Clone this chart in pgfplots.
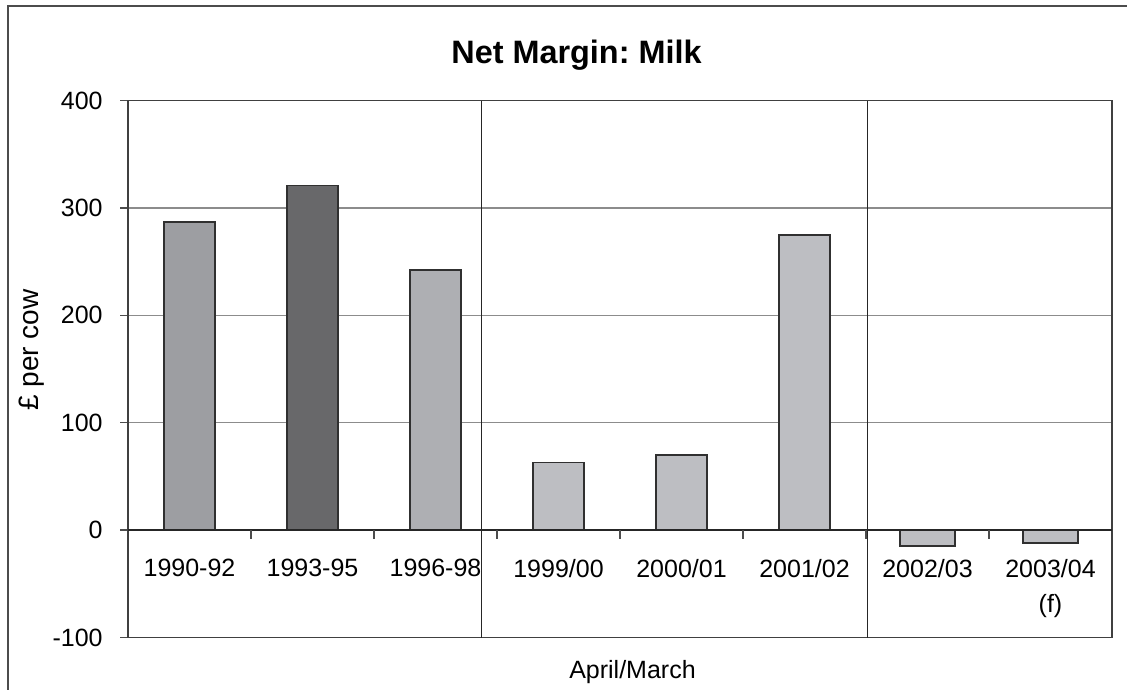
\documentclass[border=0pt]{standalone}
\usepackage{pgfplots}
\pgfplotsset{compat=1.18}
\usepackage{fontspec}
\setmainfont{Liberation Sans}
\frenchspacing
\definecolor{barA}{HTML}{9D9EA2}
\definecolor{barB}{HTML}{68686A}
\definecolor{barC}{HTML}{AEAFB3}
\definecolor{barD}{HTML}{BDBEC2}
\definecolor{edge}{HTML}{303030}
\begin{document}
\begin{tikzpicture}
\path[use as bounding box] (0,0) rectangle (565pt,-345pt);
\draw[line width=1pt, black!70] (4pt,-346pt) -- (4pt,-3pt) -- (563.5pt,-3pt);
\begin{axis}[
  at={(64pt,-318.75pt)}, anchor=south west,
  scale only axis, width=492pt, height=268.5pt,
  xmin=0, xmax=8, ymin=-100, ymax=400,
  ytick={-100,0,100,200,300,400},
  xtick={0.5,1.5,2.5,3.5,4.5,5.5,6.5,7.5},
  xticklabels={1990-92,1993-95,1996-98,1999/00,2000/01,2001/02,2002/03,{2003/04\\(f)}},
  ymajorgrids, grid style={line width=0.7pt, color=black!45},
  axis line style={line width=0.8pt, color=black!75},
  tick align=outside, major tick length=4pt,
  ytick pos=left,
  ytick style={line width=0.7pt, color=black!70},
  xtick style={draw=none},
  /pgf/number format/assume math mode=true,
  yticklabel style={font=\fontsize{12.5}{15}\selectfont, anchor=east, inner sep=0pt, xshift=-8.5pt},
  xticklabel style={font=\fontsize{12.5}{17.5}\selectfont, align=center, anchor=north, inner sep=0pt, yshift=43.5pt},
]
\addplot[ybar, bar shift=0pt, bar width=0.415, fill=barA, draw=edge, line width=0.8pt] coordinates {(0.5,287)};
\addplot[ybar, bar shift=0pt, bar width=0.415, fill=barB, draw=edge, line width=0.8pt] coordinates {(1.5,321)};
\addplot[ybar, bar shift=0pt, bar width=0.415, fill=barC, draw=edge, line width=0.8pt] coordinates {(2.5,242)};
\addplot[ybar, bar shift=0pt, bar width=0.415, fill=barD, draw=edge, line width=0.8pt] coordinates {(3.5,63) (4.5,70) (5.5,275)};
\addplot[ybar, bar shift=0pt, bar width=0.445, fill=barD, draw=edge, line width=0.8pt] coordinates {(6.5,-15) (7.5,-12)};
\draw[line width=0.8pt, black!85] (axis cs:0,0) -- (axis cs:8,0);
\pgfplotsinvokeforeach{1,...,7}{\draw[line width=0.7pt, black!70] (axis cs:#1,0) -- (axis cs:#1,-8.4);}
\draw[line width=0.6pt, black!85] (axis cs:2.876,-100) -- (axis cs:2.876,400);
\draw[line width=0.6pt, black!85] (axis cs:6.013,-100) -- (axis cs:6.013,400);
\end{axis}
\node[anchor=base, font=\bfseries\fontsize{16.2}{19}\selectfont] at (288.25pt,-31.7pt) {Net Margin: Milk};
\node[anchor=base, font=\fontsize{12.5}{15}\selectfont] at (316.25pt,-339pt) {April/March};
\node[anchor=base, rotate=90, font=\fontsize{14}{17}\selectfont] at (19.5pt,-175pt) {£ per cow};
\end{tikzpicture}
\end{document}
